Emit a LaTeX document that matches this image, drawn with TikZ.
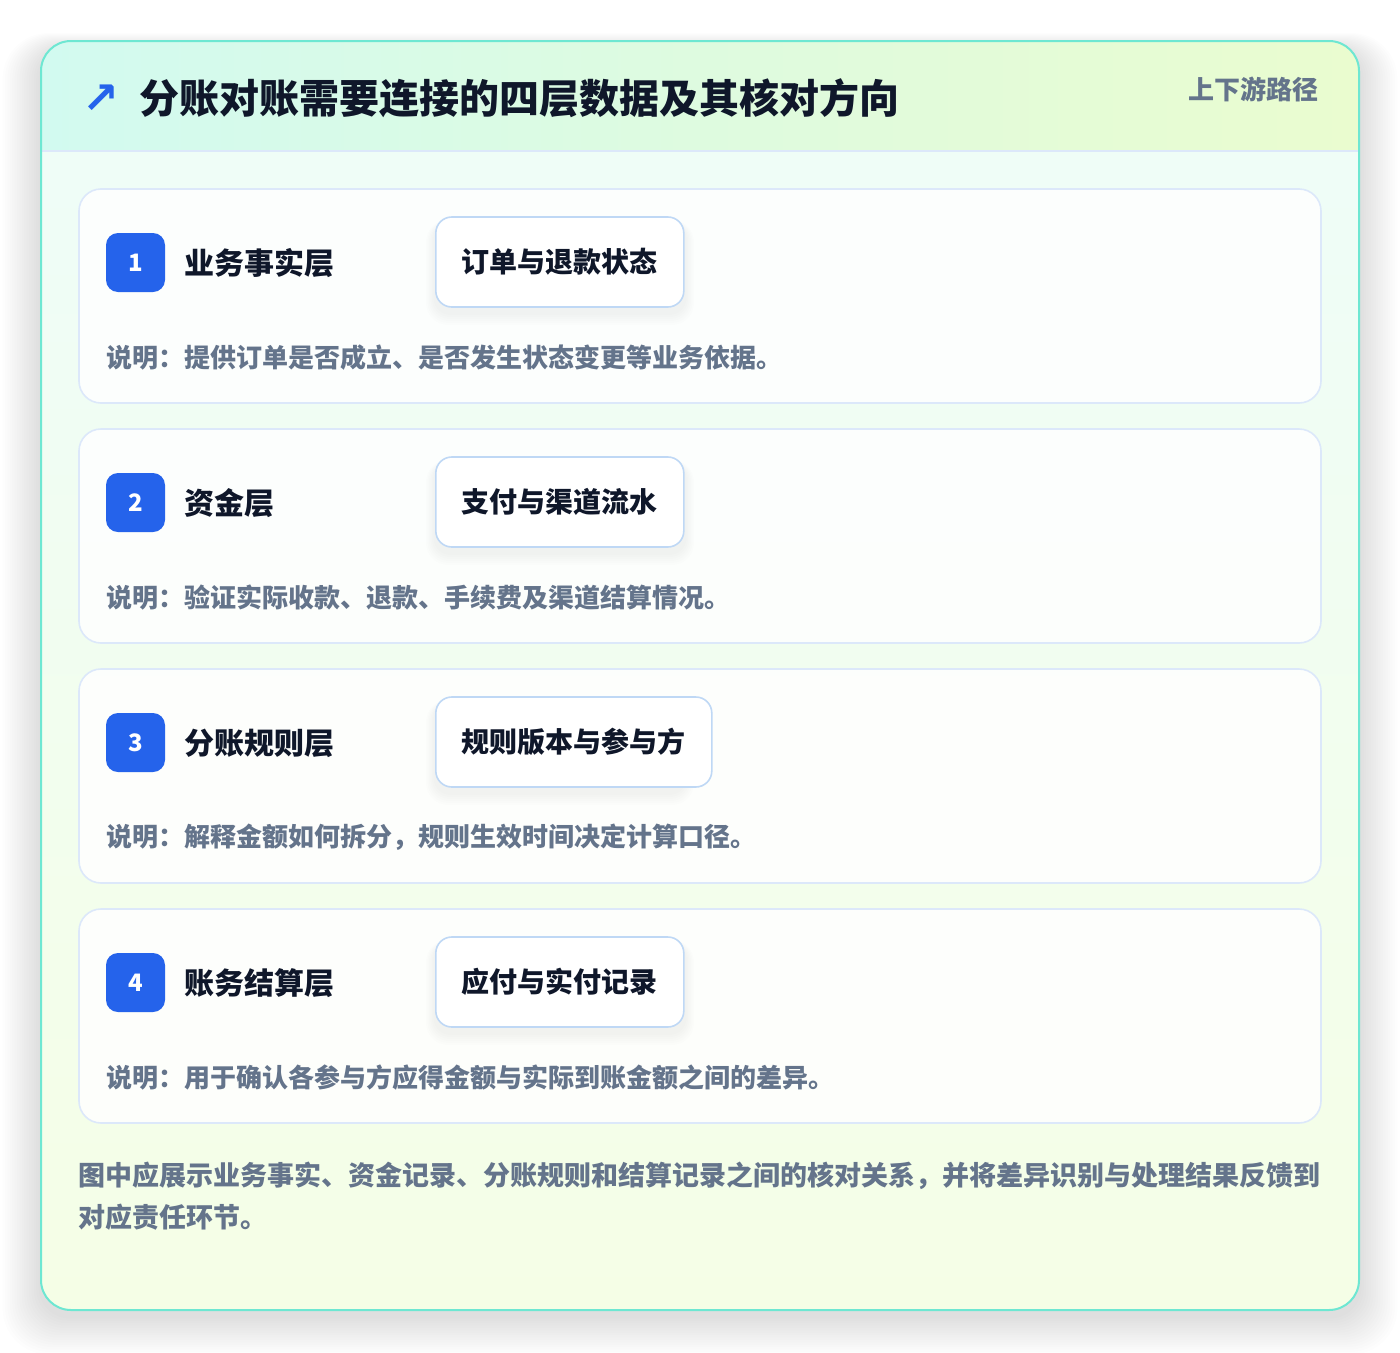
\documentclass[tikz,border=0pt]{standalone}
\usepackage{fontspec}
\setmainfont{Noto Sans CJK SC}
\newfontfamily\symfont{DejaVu Sans}
\usetikzlibrary{positioning}
\definecolor{ink}{HTML}{0F172A}
\definecolor{muted}{HTML}{64748B}
\definecolor{accent}{HTML}{2563EB}
\definecolor{panelline}{HTML}{6EE7D2}
\definecolor{cardline}{HTML}{DCE8FA}
\definecolor{tagline}{HTML}{BFD8F5}
\definecolor{hdrleft}{HTML}{D2FAF0}
\definecolor{hdrright}{HTML}{EAFCCF}
\definecolor{paneltop}{HTML}{EEFDF9}
\definecolor{panelbot}{HTML}{F5FEE6}
\tikzset{
  cardbox/.style={draw=cardline, line width=1.6pt, fill=white, fill opacity=0.85, text opacity=1,
    rounded corners=22pt, minimum width=1242pt, minimum height=214pt, inner sep=0pt},
  badge/.style={fill=accent, rounded corners=12pt, minimum width=59pt, minimum height=59pt,
    inner sep=0pt, text=white, font=\fontsize{24}{26}\selectfont\bfseries},
  layertitle/.style={anchor=west, inner sep=0pt, text=ink, font=\fontsize{30}{34}\selectfont\bfseries},
  tagbox/.style={draw=tagline, line width=1.6pt, fill=white, rounded corners=16pt,
    minimum height=90pt, inner xsep=26pt, inner ysep=0pt, anchor=west, text=ink,
    font=\fontsize{28}{32}\selectfont\bfseries},
  desc/.style={anchor=west, inner sep=0pt, text=muted, font=\fontsize{26}{30}\selectfont\bfseries},
}
\begin{document}
\begin{tikzpicture}[x=1pt,y=-1pt]
\useasboundingbox (0,0) rectangle (1400,1352);
\fill[white] (0,0) rectangle (1400,1352);
% outer shadow
\foreach \i in {1,...,16}{
  \fill[black, opacity=0.007, rounded corners=30pt+\i pt]
    (41-\i*2.4, 41-\i*1.0+8) rectangle (1359+\i*2.4, 1310+\i*2.4+6);
}
% panel
\begin{scope}
  \clip[rounded corners=30pt] (41,41) rectangle (1359,1310);
  \shade[top color=paneltop, bottom color=panelbot] (41,41) rectangle (1359,1310);
  \shade[left color=hdrleft, right color=hdrright] (41,41) rectangle (1359,151);
  \draw[cardline, line width=1.6pt] (41,151) -- (1359,151);
\end{scope}
\node[draw=panelline, line width=2pt, rounded corners=30pt, minimum width=1318pt, minimum height=1269pt,
  inner sep=0pt] (panel) at (700,675.5) {};
% header
\node[inner sep=0pt, text=accent, font=\symfont\fontsize{44}{44}\selectfont\bfseries] (icon) at (101,99) {↗};
\node[anchor=west, inner sep=0pt, text=ink, font=\fontsize{40}{46}\selectfont\bfseries] (title) at (139,98)
  {分账对账需要连接的四层数据及其核对方向};
\node[anchor=east, inner sep=0pt, text=muted, font=\fontsize{26}{30}\selectfont\bfseries] (route) at (1319,89)
  {上下游路径};
% cards
\foreach \k/\num/\lt/\tg/\ds in {
  0/1/业务事实层/订单与退款状态/说明：提供订单是否成立、是否发生状态变更等业务依据。,
  1/2/资金层/支付与渠道流水/说明：验证实际收款、退款、手续费及渠道结算情况。,
  2/3/分账规则层/规则版本与参与方/说明：解释金额如何拆分，规则生效时间决定计算口径。,
  3/4/账务结算层/应付与实付记录/说明：用于确认各参与方应得金额与实际到账金额之间的差异。}{
  \pgfmathsetmacro{\oy}{240*\k}
  \node[cardbox] (card\num) at (700,296+\oy) {};
  \node[badge] (badge\num) at (135.5,262.5+\oy) {\num};
  \node[layertitle] (lt\num) at (184,263.5+\oy) {\lt};
  \foreach \j in {1,...,6}{
    \fill[black, opacity=0.007, rounded corners=16pt+\j pt] (435-\j*1.5,217+\oy-\j*0.5+6) rectangle (685+\j*1.5,307+\oy+\j*2+6);
  }
  \node[tagbox] (tag\num) at (435,262+\oy) {\tg};
  \node[desc] (desc\num) at (106,357.5+\oy) {\ds};
}
% footer
\node[anchor=north west, inner sep=0pt, align=left, text=muted, font=\fontsize{27}{42}\selectfont\bfseries]
  (foot) at (78,1162)
  {图中应展示业务事实、资金记录、分账规则和结算记录之间的核对关系，并将差异识别与处理结果反馈到\\对应责任环节。};
\end{tikzpicture}
\end{document}
